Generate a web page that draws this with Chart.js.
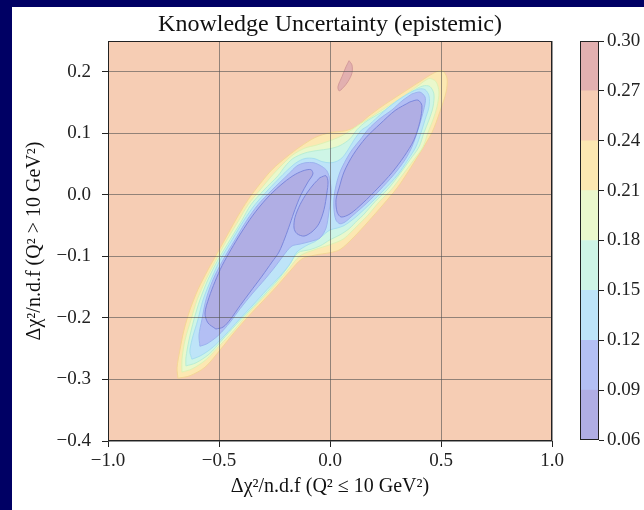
<!DOCTYPE html>
<html>
<head>
<meta charset="utf-8">
<script src="https://cdn.jsdelivr.net/npm/chart.js@4.4.1/dist/chart.umd.min.js"></script>
<style>
  html, body { margin: 0; padding: 0; }
  body { width: 644px; height: 510px; background: #000064; position: relative; overflow: hidden; }
  #panel { position: absolute; left: 12px; top: 7px; width: 632px; height: 503px; background: #fff; }
  #main { position: absolute; left: 12px; top: 7px; }
  #cbar { position: absolute; left: 570px; top: 7px; }
</style>
</head>
<body>
<div id="panel"></div>
<canvas id="main" width="632" height="503"></canvas>
<canvas id="cbar" width="74" height="503"></canvas>
<script>
// contour levels of the colour bar and the colour of each band between them
const levels = [0.06, 0.09, 0.12, 0.15, 0.18, 0.21, 0.24, 0.27, 0.30];
const bandColors = ['#b0aee4', '#b3bff4', '#bee4f8', '#cef5e6', '#eaf8cc', '#fce8b2', '#f6cdb4', '#e2b0b0'];
const lineColors = ['#7c88dc', '#9db4ef', '#a6def0', '#b9eed4', '#def2b4', '#f5d696', '#eebfa4', '#d49a9a'];

const xTicks = [-1.0, -0.5, 0.0, 0.5, 1.0];
const yTicks = [-0.4, -0.3, -0.2, -0.1, 0.0, 0.1, 0.2];

// contour outlines, [x, y]
const contour024 = [[-0.685,-0.298],[-0.631,-0.294],[-0.563,-0.280],[-0.495,-0.252],[-0.432,-0.224],[-0.369,-0.198],[-0.306,-0.174],[-0.243,-0.150],[-0.180,-0.124],[-0.126,-0.104],[-0.068,-0.098],[0.000,-0.094],[0.045,-0.089],[0.104,-0.070],[0.171,-0.044],[0.239,-0.016],[0.302,0.011],[0.351,0.037],[0.405,0.068],[0.459,0.101],[0.495,0.135],[0.523,0.167],[0.527,0.190],[0.505,0.202],[0.468,0.198],[0.405,0.184],[0.315,0.163],[0.239,0.145],[0.171,0.127],[0.122,0.112],[0.068,0.104],[0.000,0.101],[-0.068,0.093],[-0.135,0.078],[-0.194,0.062],[-0.261,0.041],[-0.315,0.018],[-0.369,-0.008],[-0.414,-0.034],[-0.459,-0.063],[-0.505,-0.093],[-0.550,-0.122],[-0.595,-0.154],[-0.631,-0.187],[-0.658,-0.220],[-0.676,-0.252],[-0.689,-0.281],[-0.685,-0.298]];

const contour021 = [[-0.667,-0.288],[-0.622,-0.283],[-0.559,-0.268],[-0.495,-0.244],[-0.432,-0.220],[-0.369,-0.193],[-0.306,-0.169],[-0.243,-0.145],[-0.185,-0.120],[-0.135,-0.099],[-0.068,-0.089],[0.000,-0.081],[0.059,-0.072],[0.099,-0.059],[0.135,-0.046],[0.171,-0.033],[0.225,-0.010],[0.275,0.008],[0.324,0.031],[0.378,0.057],[0.419,0.078],[0.441,0.101],[0.464,0.122],[0.482,0.143],[0.491,0.167],[0.477,0.184],[0.446,0.189],[0.396,0.177],[0.333,0.161],[0.279,0.148],[0.230,0.137],[0.180,0.125],[0.135,0.115],[0.099,0.106],[0.054,0.096],[0.000,0.088],[-0.059,0.081],[-0.113,0.076],[-0.167,0.065],[-0.212,0.050],[-0.257,0.033],[-0.315,0.008],[-0.369,-0.016],[-0.410,-0.041],[-0.464,-0.073],[-0.514,-0.106],[-0.559,-0.138],[-0.599,-0.171],[-0.626,-0.203],[-0.653,-0.236],[-0.667,-0.268],[-0.667,-0.288]];

const contour018 = [[-0.649,-0.278],[-0.604,-0.273],[-0.545,-0.259],[-0.486,-0.236],[-0.423,-0.211],[-0.360,-0.187],[-0.297,-0.163],[-0.234,-0.138],[-0.189,-0.117],[-0.144,-0.094],[-0.090,-0.089],[-0.045,-0.083],[0.000,-0.073],[0.045,-0.065],[0.086,-0.055],[0.122,-0.042],[0.149,-0.033],[0.203,-0.011],[0.257,0.008],[0.302,0.028],[0.360,0.057],[0.401,0.078],[0.423,0.101],[0.446,0.122],[0.464,0.143],[0.468,0.164],[0.450,0.176],[0.419,0.177],[0.374,0.169],[0.324,0.156],[0.288,0.148],[0.248,0.138],[0.203,0.128],[0.162,0.119],[0.122,0.106],[0.090,0.091],[0.045,0.080],[0.000,0.075],[-0.059,0.072],[-0.113,0.068],[-0.167,0.059],[-0.203,0.046],[-0.234,0.031],[-0.297,0.008],[-0.356,-0.016],[-0.396,-0.041],[-0.450,-0.073],[-0.505,-0.106],[-0.550,-0.138],[-0.586,-0.171],[-0.613,-0.203],[-0.635,-0.236],[-0.649,-0.265],[-0.649,-0.278]];

const contour015 = [[-0.622,-0.267],[-0.586,-0.262],[-0.532,-0.249],[-0.473,-0.228],[-0.410,-0.203],[-0.347,-0.179],[-0.284,-0.154],[-0.225,-0.132],[-0.180,-0.112],[-0.149,-0.093],[-0.099,-0.081],[-0.068,-0.076],[-0.036,-0.067],[0.000,-0.057],[0.032,-0.054],[0.063,-0.050],[0.099,-0.041],[0.126,-0.033],[0.185,-0.013],[0.243,0.008],[0.306,0.033],[0.351,0.057],[0.387,0.078],[0.410,0.101],[0.428,0.122],[0.446,0.143],[0.446,0.161],[0.428,0.171],[0.401,0.172],[0.360,0.166],[0.315,0.156],[0.266,0.143],[0.216,0.127],[0.167,0.111],[0.144,0.106],[0.108,0.089],[0.081,0.073],[0.054,0.060],[0.027,0.054],[0.000,0.052],[-0.036,0.054],[-0.072,0.059],[-0.113,0.059],[-0.153,0.052],[-0.189,0.041],[-0.212,0.033],[-0.279,0.008],[-0.338,-0.016],[-0.387,-0.041],[-0.441,-0.073],[-0.495,-0.106],[-0.536,-0.138],[-0.572,-0.171],[-0.595,-0.203],[-0.622,-0.236],[-0.631,-0.255],[-0.622,-0.267]];

const contour012a = [[-0.586,-0.246],[-0.554,-0.242],[-0.505,-0.229],[-0.450,-0.207],[-0.405,-0.185],[-0.351,-0.161],[-0.293,-0.137],[-0.252,-0.119],[-0.225,-0.106],[-0.198,-0.093],[-0.171,-0.083],[-0.135,-0.080],[-0.081,-0.075],[-0.045,-0.070],[-0.018,-0.054],[-0.005,-0.028],[0.005,0.000],[0.000,0.024],[-0.014,0.039],[-0.036,0.046],[-0.072,0.052],[-0.113,0.052],[-0.149,0.047],[-0.189,0.033],[-0.261,0.008],[-0.324,-0.016],[-0.374,-0.041],[-0.428,-0.073],[-0.482,-0.106],[-0.527,-0.138],[-0.559,-0.171],[-0.577,-0.203],[-0.590,-0.228],[-0.586,-0.246]];

const contour012b = [[0.369,0.164],[0.405,0.167],[0.428,0.159],[0.428,0.148],[0.410,0.122],[0.392,0.101],[0.369,0.078],[0.338,0.057],[0.288,0.033],[0.225,0.008],[0.167,-0.013],[0.104,-0.033],[0.068,-0.044],[0.045,-0.047],[0.027,-0.041],[0.018,-0.024],[0.018,-0.005],[0.027,0.015],[0.045,0.037],[0.072,0.057],[0.099,0.073],[0.135,0.089],[0.171,0.106],[0.225,0.124],[0.279,0.138],[0.329,0.154],[0.369,0.164]];

const contour009a = [[-0.514,-0.218],[-0.550,-0.208],[-0.563,-0.192],[-0.545,-0.167],[-0.518,-0.141],[-0.486,-0.115],[-0.446,-0.089],[-0.401,-0.062],[-0.347,-0.033],[-0.288,-0.007],[-0.225,0.015],[-0.167,0.031],[-0.122,0.039],[-0.086,0.041],[-0.077,0.034],[-0.099,0.021],[-0.131,0.000],[-0.158,-0.024],[-0.180,-0.047],[-0.203,-0.070],[-0.230,-0.093],[-0.261,-0.109],[-0.306,-0.132],[-0.360,-0.158],[-0.405,-0.180],[-0.450,-0.203],[-0.482,-0.215],[-0.514,-0.218]];

const contour009b = [[-0.045,0.028],[-0.018,0.031],[-0.009,0.021],[-0.014,0.003],[-0.027,-0.024],[-0.050,-0.047],[-0.081,-0.060],[-0.117,-0.067],[-0.149,-0.063],[-0.162,-0.054],[-0.158,-0.037],[-0.135,-0.016],[-0.104,0.003],[-0.072,0.018],[-0.045,0.028]];

const contour009c = [[0.360,0.151],[0.396,0.154],[0.414,0.145],[0.405,0.119],[0.378,0.089],[0.333,0.062],[0.279,0.036],[0.216,0.011],[0.149,-0.013],[0.090,-0.031],[0.050,-0.036],[0.032,-0.028],[0.027,-0.008],[0.041,0.011],[0.063,0.037],[0.104,0.065],[0.162,0.093],[0.225,0.115],[0.293,0.137],[0.360,0.151]];

const contour027 = [[0.086,0.218],[0.099,0.211],[0.099,0.198],[0.081,0.184],[0.059,0.174],[0.041,0.169],[0.036,0.176],[0.054,0.192],[0.072,0.208],[0.086,0.218]];

// outer to inner, with the band index each region is filled with
const regions = [
  { pts: contour024, band: 5 },
  { pts: contour021, band: 4 },
  { pts: contour018, band: 3 },
  { pts: contour015, band: 2 },
  { pts: contour012a, band: 1 },
  { pts: contour012b, band: 1 },
  { pts: contour009a, band: 0 },
  { pts: contour009b, band: 0 },
  { pts: contour009c, band: 0 },
  { pts: contour027, band: 7 }
];

Chart.defaults.font.family = "'Liberation Serif', 'DejaVu Serif', serif";
Chart.defaults.color = '#222';

const fmt = (v, d) => v.toFixed(d).replace('-', '\u2212');

const frame = {
  id: 'frame',
  beforeDraw(chart, args, opts) {
    if (!opts.bg) return;
    const a = chart.chartArea, c = chart.ctx;
    c.save();
    c.fillStyle = opts.bg;
    c.fillRect(a.left, a.top, a.right - a.left, a.bottom - a.top);
    c.restore();
  },
  afterDraw(chart) {
    const a = chart.chartArea, c = chart.ctx;
    c.save();
    c.strokeStyle = '#222';
    c.lineWidth = 1;
    c.strokeRect(Math.round(a.left) + 0.5, Math.round(a.top) + 0.5,
      Math.round(a.right - a.left) - 1, Math.round(a.bottom - a.top) - 1);
    c.restore();
  }
};

const datasets = regions.map((r, i) => ({
  data: r.pts.map(p => ({ x: p[0], y: p[1] })),
  showLine: true,
  fill: 'shape',
  backgroundColor: bandColors[r.band],
  borderColor: lineColors[r.band],
  borderWidth: 1,
  pointRadius: 0,
  tension: 0.3,
  order: regions.length - i
}));

const gridStyle = { z: 1, color: 'rgba(80,80,80,0.6)', lineWidth: 1, tickColor: '#222', tickLength: 6, tickWidth: 1 };

new Chart(document.getElementById('main').getContext('2d'), {
  type: 'scatter',
  data: { datasets },
  options: {
    responsive: false,
    animation: false,
    events: [],
    layout: { padding: { left: 0, right: 92, top: 0, bottom: 0 } },
    plugins: {
      legend: { display: false },
      tooltip: { enabled: false },
      frame: { bg: bandColors[6] },
      title: {
        display: true,
        fullSize: false,
        text: 'Knowledge Uncertainty (epistemic)',
        color: '#111',
        font: { size: 24, weight: 'normal' },
        padding: { top: 3.6, bottom: 1.6 }
      }
    },
    scales: {
      x: {
        type: 'linear', min: -1, max: 1,
        afterBuildTicks: s => { s.ticks = xTicks.map(v => ({ value: v })); },
        afterFit: s => { s.height = 69; },
        ticks: { callback: v => fmt(v, 1), font: { size: 19 }, color: '#222', padding: 3, maxRotation: 0 },
        grid: gridStyle,
        border: { display: false },
        title: { display: true, text: 'Δχ²/n.d.f (Q² ≤ 10 GeV²)', color: '#111', font: { size: 20 }, padding: { top: 0, bottom: 11 } }
      },
      y: {
        type: 'linear', min: -0.4, max: 0.25,
        afterBuildTicks: s => { s.ticks = yTicks.map(v => ({ value: v })); },
        afterFit: s => { s.width = 96; },
        ticks: { callback: v => fmt(v, 1), font: { size: 19 }, color: '#222', padding: 11 },
        grid: gridStyle,
        border: { display: false },
        title: { display: true, text: 'Δχ²/n.d.f (Q² > 10 GeV²)', color: '#111', font: { size: 20 }, padding: { top: 11, bottom: 0 } }
      }
    }
  },
  plugins: [frame]
});

// colour bar: one floating bar segment per band
new Chart(document.getElementById('cbar').getContext('2d'), {
  type: 'bar',
  data: {
    labels: ['cb'],
    datasets: bandColors.map((c, i) => ({
      data: [[levels[i], levels[i + 1]]],
      backgroundColor: c,
      borderWidth: 0,
      barPercentage: 1,
      categoryPercentage: 1,
      grouped: false
    }))
  },
  options: {
    responsive: false,
    animation: false,
    events: [],
    layout: { padding: { left: 10, right: 0, top: 34, bottom: 70 } },
    plugins: { legend: { display: false }, tooltip: { enabled: false }, frame: {} },
    scales: {
      x: { display: false },
      y: {
        position: 'right', min: levels[0], max: levels[levels.length - 1],
        afterBuildTicks: s => { s.ticks = levels.map(v => ({ value: v })); },
        afterFit: s => { s.width = 45; },
        ticks: { callback: v => fmt(v, 2), font: { size: 19 }, color: '#222', padding: 3 },
        grid: { drawOnChartArea: false, drawTicks: true, tickLength: 5, tickColor: '#222', tickWidth: 1 },
        border: { display: false }
      }
    }
  },
  plugins: [frame]
});
</script>
</body>
</html>
